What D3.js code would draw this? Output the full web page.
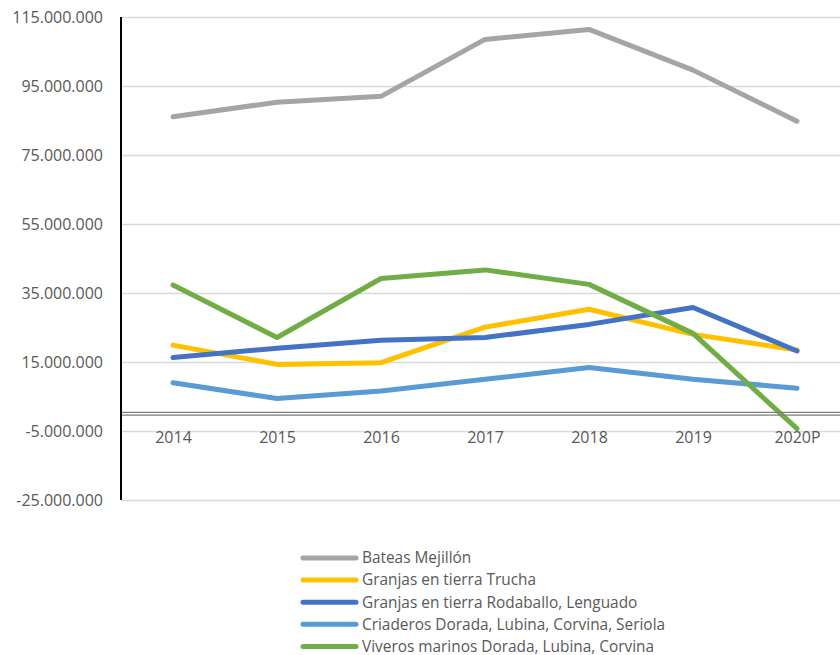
<!DOCTYPE html>
<html>
<head>
<meta charset="utf-8">
<script src="https://cdn.jsdelivr.net/npm/d3@7"></script>
<style>
  body { margin: 0; background: #fff; }
  svg { display: block; font-family: "Open Sans", sans-serif; }
  .tick text { fill: #595959; font-size: 16px; }
  .legend text { fill: #595959; font-size: 15.4px; }
</style>
</head>
<body>
<svg width="840" height="655"></svg>
<script>
const years = ["2014", "2015", "2016", "2017", "2018", "2019", "2020P"];
const yTicks = [-25e6, -5e6, 15e6, 35e6, 55e6, 75e6, 95e6, 115e6];

const seriesNames = [
  "Bateas Mejillón",
  "Granjas en tierra Trucha",
  "Granjas en tierra Rodaballo, Lenguado",
  "Criaderos Dorada, Lubina, Corvina, Seriola",
  "Viveros marinos Dorada, Lubina, Corvina"
];
const seriesColors = ["#a5a5a5", "#ffc000", "#4472c4", "#5b9bd5", "#70ad47"];

const bateas = [86.1e6, 90.3e6, 92.0e6, 108.5e6, 111.4e6, 99.6e6, 84.8e6];
const trucha = [19.9e6, 14.3e6, 14.8e6, 25.1e6, 30.3e6, 23.0e6, 18.5e6];
const rodaballo = [16.3e6, 19.0e6, 21.3e6, 22.1e6, 25.9e6, 30.8e6, 18.2e6];
const criaderos = [9.0e6, 4.4e6, 6.6e6, 10.0e6, 13.4e6, 10.0e6, 7.4e6];
const viveros = [37.3e6, 22.1e6, 39.2e6, 41.7e6, 37.5e6, 23.3e6, -4.3e6];

const seriesValues = [bateas, trucha, rodaballo, criaderos, viveros];

const svg = d3.select("svg");
const width = +svg.attr("width");
const height = +svg.attr("height");

const margin = { top: 17, right: 0, bottom: 155, left: 121 };
const innerWidth = width - margin.left - margin.right;
const innerHeight = height - margin.top - margin.bottom;

const locale = d3.formatLocale({
  decimal: ",",
  thousands: ".",
  grouping: [3],
  currency: ["", "€"],
  minus: "-"
});
const fmt = locale.format(",");

// category centres: first at half a step from the axis, steps of ~104px
const xScale = d3.scalePoint().domain(years).range([52, 676]);
const yScale = d3.scaleLinear().domain([-25e6, 115e6]).range([innerHeight, 0]);

const g = svg.append("g").attr("transform", `translate(${margin.left},${margin.top})`);

// gridlines + y labels
const yAxisG = g.append("g")
  .call(d3.axisLeft(yScale).tickValues(yTicks).tickFormat(fmt).tickSize(-innerWidth).tickPadding(18))
  .attr("font-family", "'Open Sans', sans-serif")
  .attr("font-size", 16);
yAxisG.select(".domain").remove();
yAxisG.selectAll(".tick line").attr("stroke", "#d9d9d9").attr("stroke-width", 1.5);

const y0 = yScale(0);

// x labels
const xAxisG = g.append("g")
  .attr("transform", `translate(0,${y0})`)
  .call(d3.axisBottom(xScale).tickSize(0).tickPadding(18))
  .attr("font-family", "'Open Sans', sans-serif")
  .attr("font-size", 16);
xAxisG.select(".domain").remove();

// lines
const line = d3.line()
  .x((d, i) => xScale(years[i]))
  .y(d => yScale(d));

g.selectAll(".series")
  .data(seriesValues)
  .enter()
  .append("path")
  .attr("class", "series")
  .attr("fill", "none")
  .attr("stroke", (d, i) => seriesColors[i])
  .attr("stroke-width", 5)
  .attr("stroke-linejoin", "round")
  .attr("stroke-linecap", "round")
  .attr("d", line);

// zero line (double), drawn over the series
[-1.3, 1.3].forEach(o => {
  g.append("line")
    .attr("x1", 0).attr("x2", innerWidth)
    .attr("y1", y0 + o).attr("y2", y0 + o)
    .attr("stroke", "#7f7f7f").attr("stroke-width", 1.2);
});

// vertical axis line
g.append("line")
  .attr("x1", 0).attr("x2", 0)
  .attr("y1", 0).attr("y2", innerHeight)
  .attr("stroke", "#000").attr("stroke-width", 2);

// legend
const legend = svg.append("g").attr("class", "legend").attr("transform", "translate(303,558)");
const item = legend.selectAll("g")
  .data(seriesNames)
  .enter()
  .append("g")
  .attr("transform", (d, i) => `translate(0,${i * 22.1})`);

item.append("line")
  .attr("x1", 0).attr("x2", 53)
  .attr("stroke", (d, i) => seriesColors[i])
  .attr("stroke-width", 5)
  .attr("stroke-linecap", "round");

item.append("text")
  .attr("x", 59)
  .attr("dy", "0.35em")
  .text(d => d);
</script>
</body>
</html>
